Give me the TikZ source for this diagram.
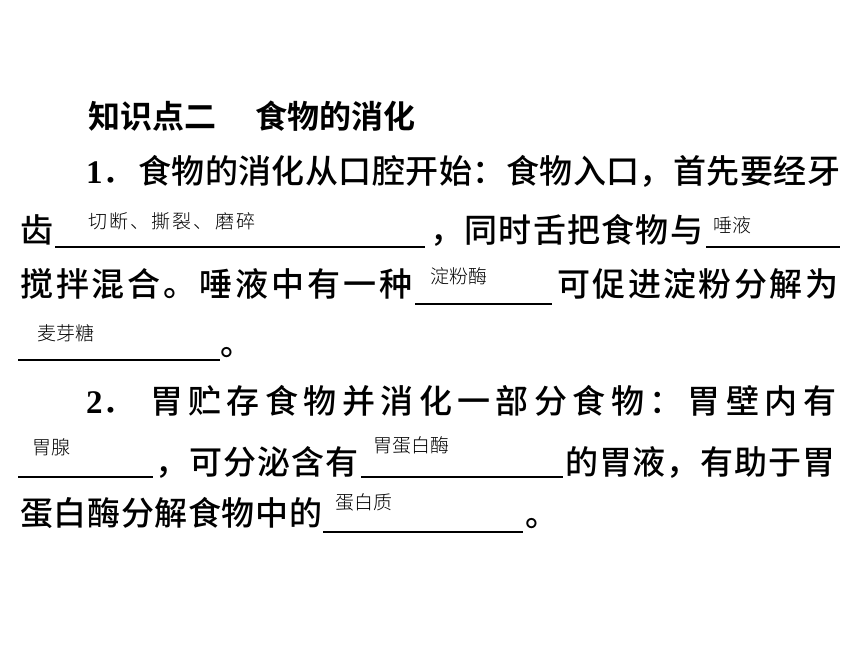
\documentclass[tikz,border=0pt]{standalone}
\usepackage{fontspec}
\newfontfamily\cjk{Noto Sans CJK SC Medium}
\newfontfamily\cjkbold{Noto Sans CJK SC Bold}
\newfontfamily\cjklight{Noto Sans CJK SC Light}
\newfontfamily\numfont{Liberation Serif}[BoldFont={Liberation Serif Bold}]
% spread characters evenly over a given width
\makeatletter
\def\spread@first#1{#1\spread@rest}
\def\spread@rest#1{\ifx\relax#1\else\hfil#1\expandafter\spread@rest\fi}
\newcommand{\spreadtext}[2]{\makebox[#1][s]{\spread@first#2\relax}}
\makeatother
\begin{document}
\begin{tikzpicture}[x=1pt,y=-1pt,
    txt/.style={anchor=base west, inner sep=0pt, font=\cjk\fontsize{33}{33}\selectfont},
    ans/.style={anchor=base west, inner sep=0pt, font=\cjklight\fontsize{19}{19}\selectfont},
    blank/.style={line width=1.8pt}]
    \useasboundingbox (0,0) rectangle (860,645);
    % Text
    \node[txt, font=\cjkbold\fontsize{32}{32}\selectfont] (title1) at (88,128) {知识点二};
    \node[txt, font=\cjkbold\fontsize{32}{32}\selectfont] (title2) at (255,128) {食物的消化};
    \node[txt] (num1) at (86,183) {{\numfont\bfseries 1}．};
    \node[txt] (line2) at (138,183) {\spreadtext{702pt}{食物的消化从口腔开始：食物入口，首先要经牙}};
    \node[txt] (line3a) at (20,242) {齿};
    \node[txt] (line3b) at (430,242) {\spreadtext{273pt}{，同时舌把食物与}};
    \node[txt] (line4a) at (20,296) {\spreadtext{392pt}{搅拌混合。唾液中有一种}};
    \node[txt] (line4b) at (557,296) {\spreadtext{281pt}{可促进淀粉分解为}};
    \node[txt] (line5) at (220,355) {。};
    \node[txt] (num2) at (86,413) {{\numfont\bfseries 2}．};
    \node[txt] (line6) at (150,413) {\spreadtext{686pt}{胃贮存食物并消化一部分食物：胃壁内有}};
    \node[txt] (line7a) at (155,474) {\spreadtext{203pt}{，可分泌含有}};
    \node[txt] (line7b) at (565,474) {\spreadtext{270pt}{的胃液，有助于胃}};
    \node[txt] (line8a) at (20,525) {\spreadtext{302pt}{蛋白酶分解食物中的}};
    \node[txt] (line8b) at (525,526) {。};

    % Answers
    \node[ans] (ans1) at (88,228) {\spreadtext{167pt}{切断、撕裂、磨碎}};
    \node[ans] (ans2) at (713,232) {唾液};
    \node[ans] (ans3) at (430,283) {淀粉酶};
    \node[ans] (ans4) at (37,340) {麦芽糖};
    \node[ans] (ans5) at (32,454) {胃腺};
    \node[ans] (ans6) at (373,452) {胃蛋白酶};
    \node[ans] (ans7) at (335,509) {蛋白质};

    % Blanks
    \coordinate (b1l) at (55,247);  \coordinate (b1r) at (425,247);
    \coordinate (b2l) at (706,247); \coordinate (b2r) at (840,247);
    \coordinate (b3l) at (415,304); \coordinate (b3r) at (552,304);
    \coordinate (b4l) at (18,360);  \coordinate (b4r) at (220,360);
    \coordinate (b5l) at (18,477);  \coordinate (b5r) at (153,477);
    \coordinate (b6l) at (361,477); \coordinate (b6r) at (563,477);
    \coordinate (b7l) at (323,532); \coordinate (b7r) at (523,532);
    \draw[blank] (b1l) -- (b1r);
    \draw[blank] (b2l) -- (b2r);
    \draw[blank] (b3l) -- (b3r);
    \draw[blank] (b4l) -- (b4r);
    \draw[blank] (b5l) -- (b5r);
    \draw[blank] (b6l) -- (b6r);
    \draw[blank] (b7l) -- (b7r);

\end{tikzpicture}
\end{document}
